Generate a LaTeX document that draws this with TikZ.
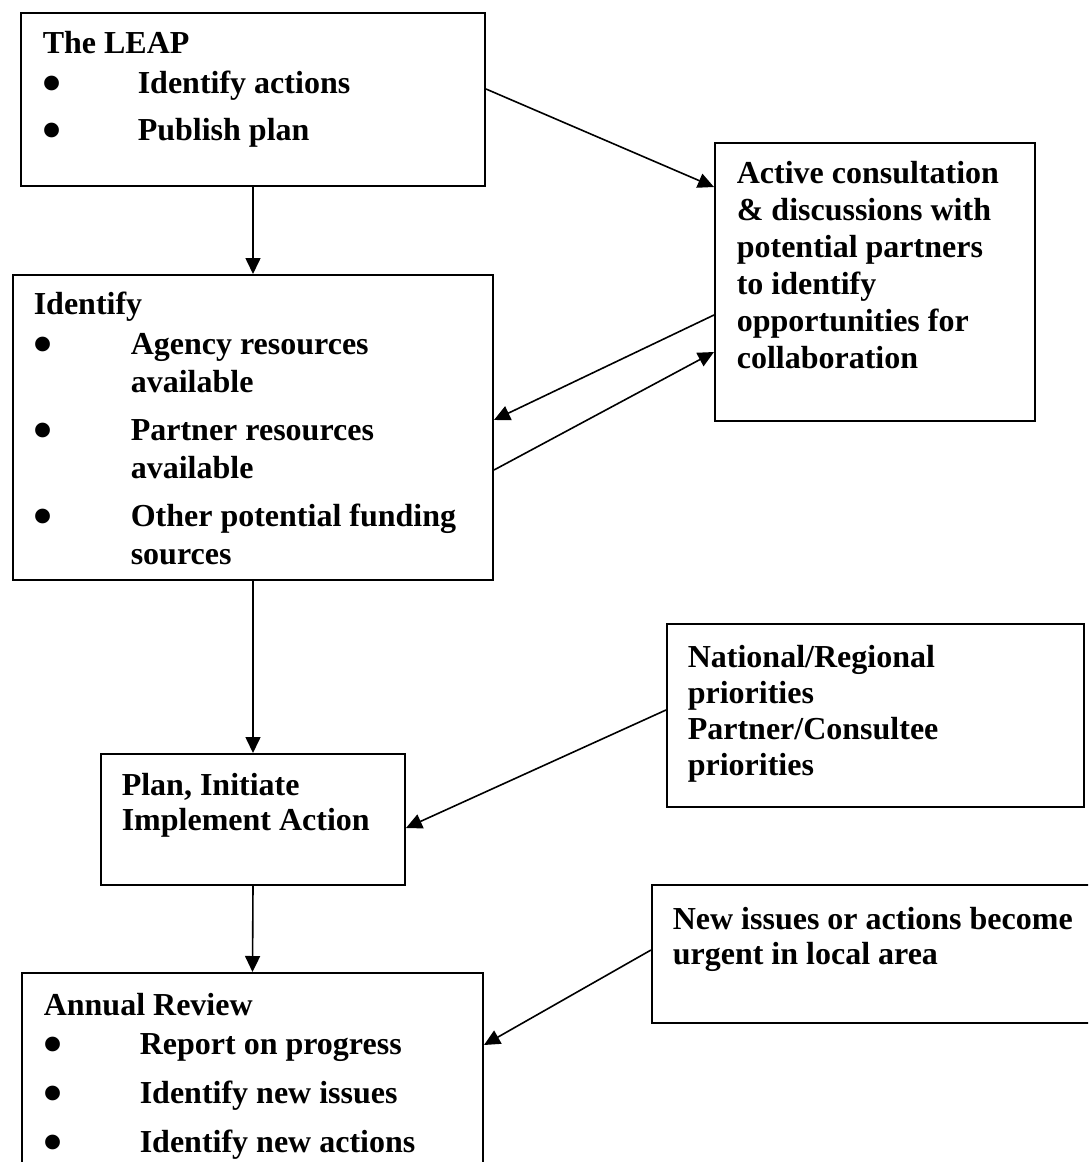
\documentclass[tikz,border=0pt]{standalone}
\usepackage{fontspec}
\setmainfont{Liberation Serif}
\usetikzlibrary{arrows.meta, positioning}
\newcommand{\itm}[1]{\makebox[#1][l]{\raisebox{-8pt}[0pt][0pt]{\scalebox{1.7}{\textbullet}}}}
\tikzset{
  every picture/.style={line width=1.6pt},
  frame/.style={draw, line width=2pt, inner sep=0pt, anchor=north west},
  txt/.style={font=\bfseries\fontsize{32}{#1}\selectfont, align=left, inner sep=0pt, anchor=north west},
  txt/.default=38pt,
  arr/.style={-{Triangle[length=16pt, width=15pt]}, line width=1.6pt},
}
\begin{document}
\begin{tikzpicture}[x=1pt, y=-1pt]
  \useasboundingbox (0,0) rectangle (1088,1162);
  \clip (0,0) rectangle (1088,1162);
  % boxes
  \node[frame, minimum width=464pt, minimum height=173pt] (leap) at (20,12) {};
  \node[frame, minimum width=480pt, minimum height=305pt] (ident) at (12,274) {};
  \node[frame, minimum width=320pt, minimum height=278pt] (consult) at (714,142) {};
  \node[frame, minimum width=304pt, minimum height=131pt] (plan) at (100,753) {};
  \node[frame, minimum width=417pt, minimum height=183pt] (prior) at (666,623) {};
  \node[frame, minimum width=461pt, minimum height=230pt] (review) at (21,972) {};
  \node[frame, minimum width=460pt, minimum height=138pt] (urgent) at (651,884) {};
  % texts
  \node[txt] (leaptxt) at (42,30) {The LEAP\\[2pt]
    \itm{95pt}Identify actions\\[9pt]
    \itm{95pt}Publish plan};
  \node[txt] (identtxt) at (33,291) {Identify\\[2pt]
    \itm{97pt}Agency resources\\ \hspace*{97pt}available\\[10pt]
    \itm{97pt}Partner resources\\ \hspace*{97pt}available\\[10pt]
    \itm{97pt}Other potential funding\\ \hspace*{97pt}sources};
  \node[txt=37pt] (consulttxt) at (736,160) {Active consultation\\ \& discussions with\\
    potential partners\\ to identify\\ opportunities for\\ collaboration};
  \node[txt=35pt] (plantxt) at (121,772) {Plan, Initiate\\ Implement Action};
  \node[txt=36pt] (priortxt) at (687,644) {National/Regional\\ priorities\\
    Partner/Consultee\\ priorities};
  \node[txt=35pt] (urgenttxt) at (672,906) {New issues or actions become\\ urgent in local area};
  \node[txt] (reviewtxt) at (43,992) {Annual Review\\[1pt]
    \itm{96pt}Report on progress\\[11pt]
    \itm{96pt}Identify new issues\\[11pt]
    \itm{96pt}Identify new actions};
  % connectors
  \draw[arr] (leap.south) -- (ident.north);
  \draw[arr] ([yshift=-77pt]leap.north east) -- ([yshift=-45pt]consult.north west);
  \draw[arr] ([yshift=-173pt]consult.north west) -- ([yshift=-146pt]ident.north east);
  \draw[arr] ([yshift=-196pt]ident.north east) -- ([yshift=-210pt]consult.north west);
  \draw[arr] (ident.south) -- (plan.north);
  \draw[arr] ([yshift=-87pt]prior.north west) -- ([yshift=-75pt]plan.north east);
  \draw[arr] (plan.south) -- (review.north);
  \draw[arr] ([yshift=-66pt]urgent.north west) -- ([yshift=-73pt]review.north east);
\end{tikzpicture}
\end{document}
